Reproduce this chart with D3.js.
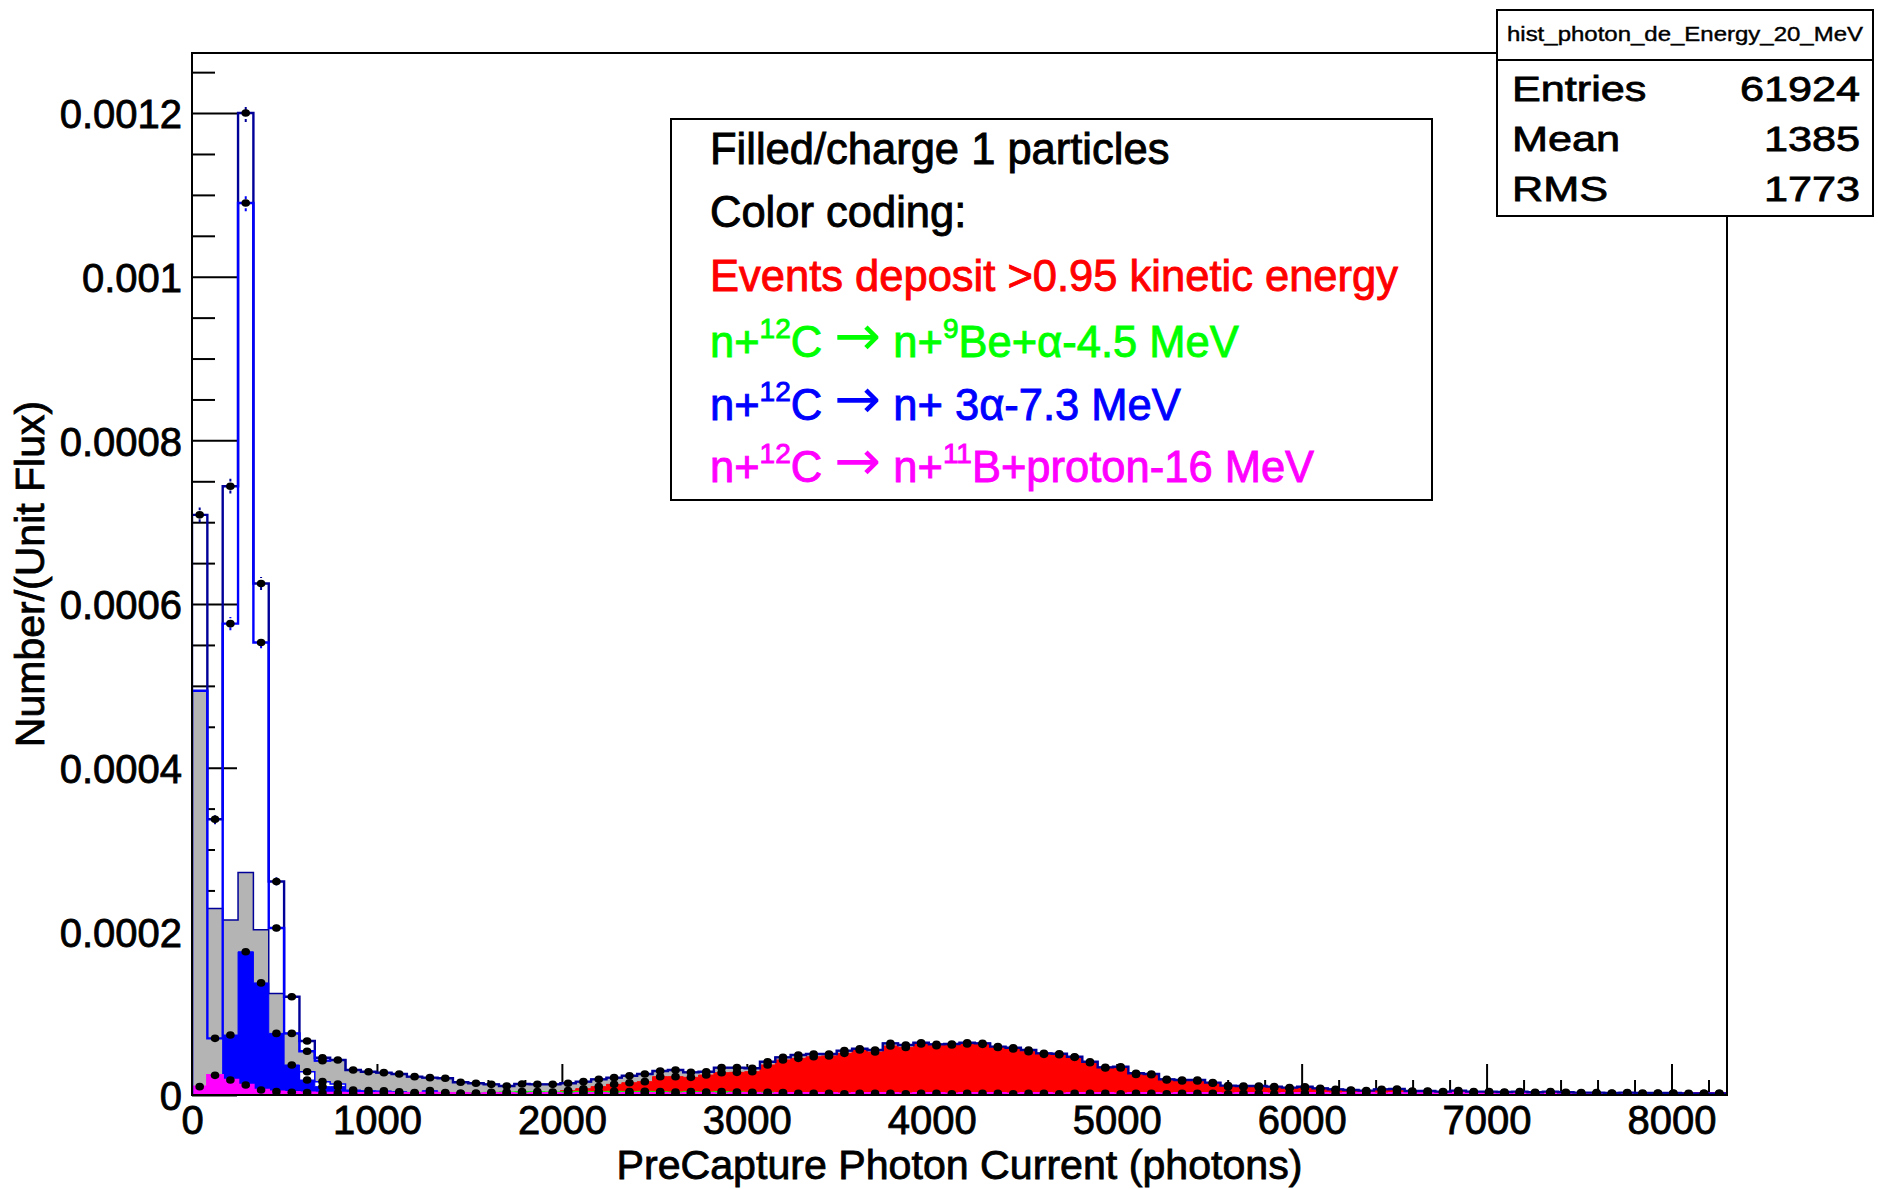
<!DOCTYPE html>
<html><head><meta charset="utf-8">
<script src="https://cdn.jsdelivr.net/npm/d3@7"></script>
<style>
body{margin:0;background:#fff}
svg{display:block}
text{font-family:"Liberation Sans",Arial,Helvetica,sans-serif}
</style>
</head><body>
<svg id="chart" width="1880" height="1189"></svg>
<script>
// ---------------- data ----------------
const binWidth = 83;           // photons per bin, 100 bins from 0 to 8300
const xTickLabels = ["0","1000","2000","3000","4000","5000","6000","7000","8000"];
const yTickLabels = ["0","0.0002","0.0004","0.0006","0.0008","0.001","0.0012"];

// all events (navy outline)
const navyAll = [
7.09e-4,3.37e-4,7.44e-4,1.20e-3,6.25e-4,2.61e-4,1.20e-4,6.60e-5,4.56e-5,4.28e-5,
3.05e-5,2.85e-5,2.73e-5,2.57e-5,2.24e-5,2.12e-5,2.04e-5,1.55e-5,1.43e-5,1.30e-5,
1.10e-5,1.34e-5,1.30e-5,1.30e-5,1.43e-5,1.63e-5,1.91e-5,2.12e-5,2.36e-5,2.57e-5,
2.93e-5,3.05e-5,2.77e-5,2.85e-5,3.34e-5,3.34e-5,3.26e-5,4.07e-5,4.60e-5,4.89e-5,
5.01e-5,5.01e-5,5.42e-5,5.66e-5,5.50e-5,6.31e-5,6.11e-5,6.39e-5,6.19e-5,6.23e-5,
6.39e-5,6.31e-5,5.91e-5,5.78e-5,5.50e-5,5.09e-5,5.05e-5,4.68e-5,4.07e-5,3.38e-5,
3.46e-5,2.65e-5,2.57e-5,1.91e-5,1.83e-5,1.83e-5,1.51e-5,1.14e-5,1.10e-5,1.10e-5,
1.02e-5,9.0e-6,1.0e-5,8.1e-6,6.9e-6,6.1e-6,5.3e-6,6.9e-6,7.3e-6,4.9e-6,
4.9e-6,4.1e-6,5.3e-6,4.1e-6,4.1e-6,3.7e-6,4.1e-6,3.3e-6,4.1e-6,3.3e-6,
2.9e-6,2.9e-6,2.4e-6,2.9e-6,2.4e-6,2.4e-6,2.4e-6,2.0e-6,2.0e-6,2.0e-6];
const navyErr = [9e-6,6e-6,9e-6,1.1e-5,8e-6,5e-6,4e-6];

// second outline (bright blue), differs from the navy one only in the first bins
const blueLine = [4.94e-4,6.92e-5,5.76e-4,1.09e-3,5.53e-4,2.04e-4,7.53e-5,5.35e-5,4.2e-5];
const blueLineErr = [0,3e-6,8e-6,1.0e-5,7e-6,4e-6,3e-6];

// charge 1 particles (gray filled); beyond these bins its top coincides with the navy outline
const grayFill = [4.94e-4,2.28e-4,2.14e-4,2.72e-4,2.02e-4,1.24e-4,7.53e-5,5.35e-5,4.2e-5];

// small open (white) boxes, bright blue outline
const whiteBox = [0,0,0,0,0,0,0,2.85e-5,1.63e-5,1.34e-5];

// n+12C -> n+3alpha (blue filled); later bins empty
const blueFill = [0,0,7.33e-5,1.75e-4,1.37e-4,7.53e-5,3.67e-5,1.83e-5,1.02e-5,1.02e-5,
6.1e-6,5.3e-6,5.0e-6,4.0e-6,3.0e-6,5.3e-6,3.0e-6,2.0e-6,1.2e-6];

// events depositing >0.95 kinetic energy (red filled)
const redFill = [
0,0,0,0,0,0,0,0,0,0,
0,0,0,0,0,0,0,0,0,0,
0,0,0,0,5.3e-6,7.7e-6,1.02e-5,1.30e-5,1.50e-5,1.63e-5,
2.24e-5,2.24e-5,2.16e-5,2.44e-5,2.73e-5,2.77e-5,2.85e-5,3.67e-5,4.28e-5,4.48e-5,
4.68e-5,4.77e-5,5.09e-5,5.50e-5,5.25e-5,5.99e-5,5.82e-5,6.23e-5,6.03e-5,6.11e-5,
6.23e-5,6.19e-5,5.82e-5,5.62e-5,5.30e-5,4.97e-5,4.93e-5,4.60e-5,3.95e-5,3.30e-5,
3.30e-5,2.52e-5,2.48e-5,1.83e-5,1.71e-5,1.71e-5,1.43e-5,1.02e-5,9.8e-6,9.4e-6,
9.0e-6,8.1e-6,8.5e-6,7.3e-6,6.1e-6,5.3e-6,4.5e-6,6.1e-6,6.1e-6,4.1e-6,
4.1e-6,3.3e-6,4.1e-6,3.3e-6,3.3e-6,2.9e-6,3.3e-6,2.4e-6,3.3e-6,2.4e-6,
2.0e-6,2.0e-6,1.6e-6,2.0e-6,1.6e-6,1.6e-6,1.6e-6,1.2e-6,1.2e-6,1.2e-6];

// n+12C -> n+9Be+alpha (green filled)
const greenFill = [
0,0,0,0,0,0,0,0,0,0,
0,0,0,0,0,0,0,0,2.5e-6,3.3e-6,
3.7e-6,4.1e-6,4.1e-6,3.7e-6,4.1e-6,4.5e-6,4.1e-6,4.5e-6,4.1e-6,4.5e-6,
4.1e-6,3.7e-6,4.1e-6,3.7e-6,4.1e-6,3.7e-6,3.3e-6,3.3e-6,2.9e-6];

// n+12C -> n+11B+proton (magenta filled)
const magentaFill = [
1.02e-5,2.40e-5,1.83e-5,1.22e-5,6.1e-6,4.1e-6,3.3e-6,2.9e-6,2.4e-6,2.4e-6,
2.0e-6,2.0e-6,2.4e-6,2.0e-6,2.0e-6,2.4e-6,2.0e-6,2.0e-6,1.6e-6,2.0e-6,
2.0e-6,1.6e-6,2.0e-6,2.0e-6,1.6e-6,2.0e-6,2.0e-6,1.6e-6,2.0e-6,2.0e-6,
2.0e-6,1.6e-6,2.0e-6,2.0e-6,1.6e-6,2.0e-6,2.0e-6,1.6e-6,2.0e-6,2.0e-6,
2.0e-6,2.0e-6,1.6e-6,2.0e-6,2.0e-6,2.0e-6,1.6e-6,2.0e-6,2.0e-6,1.6e-6,
2.0e-6,2.0e-6,2.0e-6,1.6e-6,2.0e-6,2.0e-6,1.6e-6,2.0e-6,2.0e-6,2.0e-6,
1.6e-6,2.0e-6,2.0e-6,1.6e-6,2.0e-6,2.0e-6,2.0e-6,1.6e-6,2.0e-6,2.0e-6,
1.6e-6,2.0e-6,2.0e-6,2.0e-6,1.6e-6,2.0e-6,2.0e-6,1.6e-6,2.0e-6,2.0e-6,
2.0e-6,1.6e-6,2.0e-6,2.0e-6,1.6e-6,2.0e-6,2.0e-6,2.0e-6,1.6e-6,2.0e-6,
2.0e-6,1.6e-6,2.0e-6,2.0e-6,1.6e-6,2.0e-6,2.0e-6,1.6e-6,2.0e-6,2.0e-6];

const statsTitle = "hist_photon_de_Energy_20_MeV";
const statsNames = ["Entries","Mean","RMS"];
const statsValues = ["61924","1385","1773"];

// part kinds: 0 normal text, 1 superscript, 2 arrow symbol
const legendLines = [
  {color:"#000000", parts:[["Filled/charge 1 particles",0]]},
  {color:"#000000", parts:[["Color coding:",0]]},
  {color:"#ff0000", parts:[["Events deposit >0.95 kinetic energy",0]]},
  {color:"#00ff00", parts:[["n+",0],["12",1],["C ",0],["\u2192",2],[" n+",0],["9",1],["Be+\u03b1-4.5 MeV",0]]},
  {color:"#0000ff", parts:[["n+",0],["12",1],["C ",0],["\u2192",2],[" n+ 3\u03b1-7.3 MeV",0]]},
  {color:"#ff00ff", parts:[["n+",0],["12",1],["C ",0],["\u2192",2],[" n+",0],["11",1],["B+proton-16 MeV",0]]}
];

// ---------------- drawing ----------------
const nBins = navyAll.length;
const frame = {l:192, r:1727, t:53, b:1095};
const svg = d3.select("#chart");
const x = d3.scaleLinear().domain([0, nBins*binWidth]).range([frame.l, frame.r]);
const y = d3.scaleLinear().domain([0, 0.0012734]).range([frame.b, frame.t]);

const pad = a => d3.range(nBins).map(i => a[i] || 0);
const heavy = (sel, color, w) => sel.attr("stroke", color).attr("stroke-width", w).attr("paint-order","stroke");

// axes (drawn first; fills cover them like in ROOT)
const yMajor = d3.range(0, 7).map(i => i*0.0002);
const yMinor = d3.range(0, 26).map(i => i*0.00005).filter(v => Math.abs((v/0.0002) - Math.round(v/0.0002)) > 1e-6);
const xMajor = d3.range(0, 9).map(i => i*1000);
const xMinor = d3.range(0, 42).map(i => i*200).filter(v => v % 1000 !== 0);

function styleAxis(g){
  g.select(".domain").remove();
  g.selectAll(".tick line").attr("stroke","#000").attr("stroke-width",2);
  g.selectAll("text").attr("fill","#000").attr("font-size",40)
   .attr("font-family","'Liberation Sans',Arial,sans-serif")
   .attr("stroke","#000").attr("stroke-width",0.8);
}
svg.append("g").attr("transform",`translate(${frame.l},0)`)
  .call(d3.axisLeft(y).tickValues(yMinor).tickSize(-23))
  .call(g => { g.select(".domain").remove(); g.selectAll("text").remove();
               g.selectAll(".tick line").attr("stroke","#000").attr("stroke-width",2); });
svg.append("g").attr("transform",`translate(${frame.l},0)`)
  .call(d3.axisLeft(y).tickValues(yMajor).tickSize(-45).tickPadding(10)
        .tickFormat((d,i)=>yTickLabels[i]))
  .call(styleAxis)
  .selectAll("text").attr("dy","0.37em");
svg.append("g").attr("transform",`translate(0,${frame.b})`)
  .call(d3.axisBottom(x).tickValues(xMinor).tickSize(-15))
  .call(g => { g.select(".domain").remove(); g.selectAll("text").remove();
               g.selectAll(".tick line").attr("stroke","#000").attr("stroke-width",2); });
svg.append("g").attr("transform",`translate(0,${frame.b})`)
  .call(d3.axisBottom(x).tickValues(xMajor).tickSize(-31).tickPadding(11)
        .tickFormat((d,i)=>xTickLabels[i]))
  .call(styleAxis);

// clip
svg.append("clipPath").attr("id","fr").append("rect")
  .attr("x",frame.l).attr("y",frame.t).attr("width",frame.r-frame.l).attr("height",frame.b-frame.t);
const plot = svg.append("g").attr("clip-path","url(#fr)");

const stepPts = vals => {
  const p = vals.map((v,i)=>[i*binWidth, v]);
  p.push([vals.length*binWidth, vals[vals.length-1]]);
  return p;
};
const area = d3.area().x(d=>x(d[0])).y0(y(0)).y1(d=>y(d[1])).curve(d3.curveStepAfter);
const line = d3.line().x(d=>x(d[0])).y(d=>y(d[1])).curve(d3.curveStepAfter);

function filled(vals, fill, stroke, sw){
  plot.append("path").attr("d", area(stepPts(vals)))
    .attr("fill", fill).attr("stroke", stroke).attr("stroke-width", sw);
}
function outline(pts, stroke, sw){
  plot.append("path").attr("d", line(pts))
    .attr("fill","none").attr("stroke", stroke).attr("stroke-width", sw);
}

const grayFull = d3.range(nBins).map(i => i < grayFill.length ? grayFill[i] : navyAll[i]);
filled(grayFull, "#b4b4b4", "#000099", 1.5);
filled(pad(whiteBox), "#ffffff", "#0000ff", 1.5);
filled(pad(blueFill), "#0000ff", "#0000ff", 1);
filled(redFill, "#ff0000", "#ff0000", 1);
filled(pad(greenFill), "#00ff00", "#00ff00", 1);
filled(magentaFill, "#ff00ff", "#ff00ff", 2.5);

// navy outline of all events
outline([[0,0], ...stepPts(navyAll), [nBins*binWidth, 0]], "#000099", 2.4);
// bright blue outline
const bl = blueLine.map((v,i)=>[i*binWidth, v]);
outline([[0,0], ...bl, [blueLine.length*binWidth, navyAll[blueLine.length]]], "#0000ff", 2.4);

// error bars
function errBars(vals, errs, color){
  plot.append("g").selectAll("line").data(errs).join("line")
    .attr("x1",(e,i)=>x((i+0.5)*binWidth)).attr("x2",(e,i)=>x((i+0.5)*binWidth))
    .attr("y1",(e,i)=>y(vals[i]-e)).attr("y2",(e,i)=>y(vals[i]+e))
    .attr("stroke",color).attr("stroke-width",2).attr("stroke-dasharray","3,3");
}
errBars(navyAll, navyErr, "#000099");
errBars(blueLine, blueLineErr, "#0000ff");

// markers (the bright blue outline shows none on its first bin)
function markers(vals, first){
  const pts = vals.map((v,i)=>({i, v})).filter(d => d.v > 0 && d.i >= (first||0));
  plot.append("g").selectAll("ellipse").data(pts).join("ellipse")
    .attr("cx", d=>x((d.i+0.5)*binWidth)).attr("cy", d=>y(d.v)).attr("rx",4.3).attr("ry",3.8)
    .attr("fill","#000");
}
[magentaFill, greenFill, redFill, blueFill, whiteBox, navyAll].forEach(v => markers(v));
markers(blueLine, 1);

// frame
svg.append("rect").attr("x",frame.l).attr("y",frame.t)
  .attr("width",frame.r-frame.l).attr("height",frame.b-frame.t)
  .attr("fill","none").attr("stroke","#000").attr("stroke-width",2);

// axis titles
svg.append("text").attr("x",(frame.l+frame.r)/2).attr("y",1179)
  .attr("text-anchor","middle").attr("font-size",40)
  .attr("textLength",686).attr("lengthAdjust","spacingAndGlyphs")
  .text("PreCapture Photon Current (photons)")
  .call(heavy, "#000", 0.8);
svg.append("text").attr("transform",`translate(44,${(frame.t+frame.b)/2}) rotate(-90)`)
  .attr("text-anchor","middle").attr("font-size",41).text("Number/(Unit Flux)")
  .call(heavy, "#000", 0.8);

// legend (pave text)
const leg = svg.append("g");
leg.append("rect").attr("x",671).attr("y",119).attr("width",761).attr("height",381)
  .attr("fill","#fff").attr("stroke","#000").attr("stroke-width",2);
const legBase = [164, 227, 291, 357, 420, 482];
legendLines.forEach((ln, k) => {
  const t = leg.append("text").attr("x",710).attr("y",legBase[k])
    .attr("fill",ln.color).attr("font-size",43.5).call(heavy, ln.color, 0.9);
  let shift = 0;
  ln.parts.forEach(([s, kind]) => {
    const ts = t.append("tspan").text(s);
    const target = kind === 1 ? -19 : (kind === 2 ? -2 : 0);
    if (target !== shift){ ts.attr("dy", target - shift); shift = target; }
    if (kind === 1) ts.attr("font-size",28);
    if (kind === 2) ts.attr("font-size",56).attr("font-family","'DejaVu Sans',sans-serif").attr("stroke-width",0);
  });
});

// stats box
const st = svg.append("g");
st.append("rect").attr("x",1497).attr("y",10).attr("width",376).attr("height",206)
  .attr("fill","#fff").attr("stroke","#000").attr("stroke-width",2);
st.append("line").attr("x1",1497).attr("x2",1873).attr("y1",60).attr("y2",60)
  .attr("stroke","#000").attr("stroke-width",2);
st.append("text").attr("transform","translate(1685,41) scale(1.2,1)")
  .attr("text-anchor","middle").attr("font-size",20).text(statsTitle).call(heavy, "#000", 0.4);
const statBase = [101, 151, 201];
statsNames.forEach((n,k)=>{
  st.append("text").attr("transform",`translate(1512,${statBase[k]}) scale(1.2,1)`)
    .attr("font-size",36).text(n).call(heavy, "#000", 0.8);
  st.append("text").attr("transform",`translate(1860,${statBase[k]}) scale(1.2,1)`)
    .attr("text-anchor","end").attr("font-size",36).text(statsValues[k]).call(heavy, "#000", 0.8);
});
</script>
</body></html>
